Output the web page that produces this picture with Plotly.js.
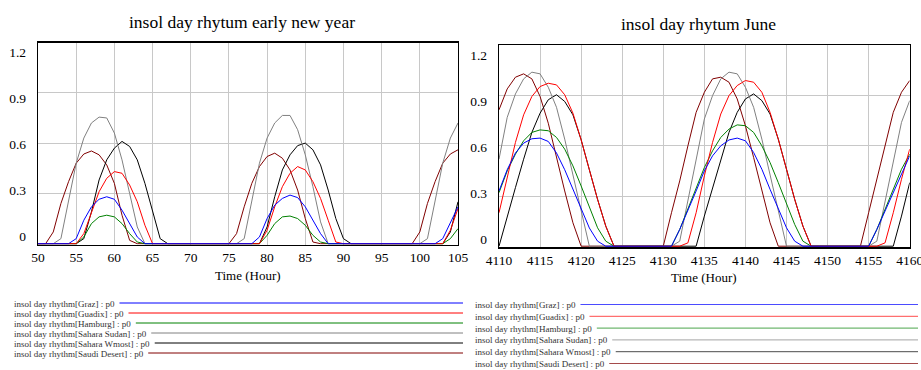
<!DOCTYPE html>
<html><head><meta charset="utf-8">
<script src="https://cdn.plot.ly/plotly-3.0.1.min.js"></script>
<style>html,body{margin:0;padding:0;background:#fff;overflow:hidden}#chart{width:921px;height:370px}</style>
</head><body><div id="chart"></div>
<script>
// ---------------- DATA ----------------
const seriesNames = ['Graz', 'Guadix', 'Hamburg', 'Sahara Sudan', 'Sahara Wmost', 'Saudi Desert'];
const titleEarly = 'insol day rhytum early new year';
const titleJune = 'insol day rhytum June';
const xTitle = 'Time (Hour)';

const hoursEarly = [50,51,52,53,54,55,56,57,58,59,60,61,62,63,64,65,66,67,68,69,70,71,72,73,74,75,76,77,78,79,80,81,82,83,84,85,86,87,88,89,90,91,92,93,94,95,96,97,98,99,100,101,102,103,104,105];
const grazEarly = [0,0,0,0,0,0.03,0.14,0.22,0.265,0.28,0.265,0.2,0.12,0.04,0, 0,0,0,0,0,0,0,0,0,0,0,0,0,0, 0.04,0.15,0.23,0.27,0.29,0.275,0.22,0.14,0.06,0, 0,0,0,0,0,0,0,0,0,0,0,0,0,0, 0.03,0.13,0.22];
const guadixEarly = [0,0,0,0,0,0,0.06,0.19,0.31,0.39,0.43,0.42,0.35,0.25,0.11,0, 0,0,0,0,0,0,0,0,0,0,0,0,0,0, 0.08,0.22,0.34,0.42,0.46,0.44,0.37,0.27,0.14,0.01, 0,0,0,0,0,0,0,0,0,0,0,0,0,0, 0.08,0.21];
const hamburgEarly = [0,0,0,0,0,0,0.04,0.12,0.16,0.17,0.16,0.12,0.06,0.01, 0,0,0,0,0,0,0,0,0,0,0,0,0,0,0,0, 0.05,0.12,0.16,0.165,0.15,0.11,0.05,0.01, 0,0,0,0,0,0,0,0,0,0,0,0,0,0,0,0, 0.03,0.09];
const sudanEarly = [0,0,0,0.03,0.26,0.48,0.63,0.72,0.755,0.75,0.66,0.5,0.3,0.1, 0,0,0,0,0,0,0,0,0,0,0,0,0, 0.03,0.26,0.48,0.63,0.72,0.765,0.765,0.68,0.53,0.34,0.13, 0,0,0,0,0,0,0,0,0,0,0,0,0, 0.03,0.26,0.48,0.63,0.72];
const wmostEarly = [0,0,0,0,0,0,0.03,0.19,0.38,0.5,0.57,0.61,0.58,0.5,0.36,0.19,0.03, 0,0,0,0,0,0,0,0,0,0,0,0,0, 0.1,0.28,0.44,0.53,0.585,0.6,0.56,0.47,0.32,0.15,0.03, 0,0,0,0,0,0,0,0,0,0,0,0,0, 0.07,0.25];
const saudiEarly = [0,0,0.07,0.24,0.37,0.48,0.535,0.553,0.53,0.47,0.36,0.17,0.02, 0,0,0,0,0,0,0,0,0,0,0,0,0, 0.06,0.22,0.36,0.46,0.52,0.54,0.51,0.44,0.32,0.15,0.01, 0,0,0,0,0,0,0,0,0,0,0,0,0, 0.07,0.24,0.37,0.48,0.535,0.56];

const hoursJune = [4110,4111,4112,4113,4114,4115,4116,4117,4118,4119,4120,4121,4122,4123,4124,4125,4126,4127,4128,4129,4130,4131,4132,4133,4134,4135,4136,4137,4138,4139,4140,4141,4142,4143,4144,4145,4146,4147,4148,4149,4150,4151,4152,4153,4154,4155,4156,4157,4158,4159,4160];
const grazJune = [0.33,0.457,0.557,0.616,0.642,0.646,0.626,0.557,0.457,0.338,0.219,0.109,0.03,0, 0,0,0,0,0,0,0,0, 0.1,0.21,0.33,0.45,0.54,0.6,0.635,0.646,0.63,0.56,0.46,0.34,0.22,0.11,0.03, 0,0,0,0,0,0,0,0,0, 0.1,0.21,0.33,0.44,0.54];
const guadixJune = [0.2,0.42,0.62,0.785,0.895,0.954,0.974,0.964,0.905,0.795,0.636,0.457,0.28,0.12,0, 0,0,0,0,0,0,0,0, 0.02,0.2,0.42,0.62,0.79,0.9,0.96,0.99,0.98,0.92,0.8,0.64,0.46,0.28,0.12, 0,0,0,0,0,0,0,0,0, 0.02,0.2,0.4,0.58];
const hamburgJune = [0.32,0.45,0.55,0.63,0.68,0.695,0.69,0.65,0.58,0.48,0.36,0.23,0.11,0.03,0, 0,0,0,0,0,0,0, 0.1,0.22,0.35,0.47,0.57,0.65,0.7,0.725,0.72,0.68,0.6,0.5,0.38,0.25,0.13,0.03, 0,0,0,0,0,0,0,0, 0.1,0.22,0.34,0.46,0.55];
const sudanJune = [0.52,0.77,0.91,1.0,1.04,1.03,0.95,0.83,0.64,0.42,0.2,0, 0,0,0,0,0,0,0,0,0,0, 0.03,0.27,0.52,0.76,0.9,1.0,1.04,1.03,0.95,0.83,0.64,0.42,0.2, 0,0,0,0,0,0,0,0,0,0,0, 0.03,0.27,0.52,0.74,0.87];
const wmostJune = [0,0.18,0.35,0.52,0.68,0.795,0.875,0.905,0.865,0.785,0.636,0.457,0.28,0.12,0, 0,0,0,0,0,0,0,0,0,0, 0.18,0.35,0.52,0.68,0.8,0.88,0.91,0.87,0.79,0.64,0.46,0.28,0.12, 0,0,0,0,0,0,0,0,0,0,0, 0.18,0.38];
const saudiJune = [0.815,0.94,1.01,1.03,1.0,0.895,0.735,0.53,0.33,0.14,0, 0,0,0,0,0,0,0,0,0,0, 0.2,0.39,0.6,0.8,0.92,1.0,1.01,0.98,0.88,0.72,0.53,0.33,0.14, 0,0,0,0,0,0,0,0,0,0,0, 0.2,0.4,0.6,0.8,0.92,0.99];

const xTicksEarly = [50,55,60,65,70,75,80,85,90,95,100,105];
const xTicksJune = [4110,4115,4120,4125,4130,4135,4140,4145,4150,4155,4160];
const yTicks = [0, 0.3, 0.6, 0.9, 1.2];

// ---------------- STYLE / LAYOUT ----------------
const seriesColors = ['#0000ff', '#ff0000', '#008000', '#808080', '#000000', '#800000'];
const W = 921, H = 370;
const FONT = '"Liberation Serif", "Times New Roman", serif';
const fx = p => p / W;
const fy = p => (H - p) / H;

const earlySeries = [grazEarly, guadixEarly, hamburgEarly, sudanEarly, wmostEarly, saudiEarly];
const juneSeries = [grazJune, guadixJune, hamburgJune, sudanJune, wmostJune, saudiJune];

const traces = [];
for (let i = seriesNames.length - 1; i >= 0; i--) {
  traces.push({x: hoursEarly, y: earlySeries[i], xaxis: 'x', yaxis: 'y', mode: 'lines',
    line: {color: seriesColors[i], width: 1}, name: seriesNames[i], showlegend: false, hoverinfo: 'skip'});
  traces.push({x: hoursJune, y: juneSeries[i], xaxis: 'x2', yaxis: 'y2', mode: 'lines',
    line: {color: seriesColors[i], width: 1}, name: seriesNames[i], showlegend: false, hoverinfo: 'skip'});
}
// placeholders so the label-only axes get drawn
traces.push({x: [hoursEarly[0]], y: [null], xaxis: 'x', yaxis: 'y3', mode: 'lines', showlegend: false, hoverinfo: 'skip'});
traces.push({x: [hoursJune[0]], y: [null], xaxis: 'x2', yaxis: 'y4', mode: 'lines', showlegend: false, hoverinfo: 'skip'});

const tickFont = {family: FONT, size: 13.5, color: '#000'};
// frame pixel positions: zero level (z) sits 1px above the frame bottom (b)
const L = {l: 38, r: 458, t: 42.5, z: 243.7, b: 244.7, lab0: 236, lab12: 52.3};
const R = {l: 499, r: 909.7, t: 45.4, z: 246.2, b: 247.2, lab0: 239.3, lab12: 55};
const yMin = f => -1.2 * (f.b - f.z) / (f.z - f.t);
function labRange(f) {
  const k = (f.lab0 - f.lab12) / 1.2;
  const a = -(f.b - f.lab0) / k;
  return [a, a + (f.b - f.t) / k];
}

function xAx(f, range, ticks, anchor) {
  return {domain: [fx(f.l), fx(f.r)], range: range, tickvals: ticks, anchor: anchor,
    showgrid: true, gridcolor: '#c8c8c8', gridwidth: 1, showline: true, mirror: true,
    linecolor: '#000', linewidth: 1.3, zeroline: false, ticks: '', tickfont: tickFont,
    ticklabelstandoff: 0, ticklabeloverflow: 'allow', fixedrange: true};
}
function yAx(f, anchor) {
  return {domain: [fy(f.b), fy(f.t)], range: [yMin(f), 1.2], tickvals: yTicks, anchor: anchor,
    showgrid: true, gridcolor: '#c8c8c8', gridwidth: 1, showline: true, mirror: true,
    linecolor: '#000', linewidth: 1.3, zeroline: false, ticks: '', showticklabels: false, fixedrange: true};
}
function yLab(over, anchor, f) {
  return {overlaying: over, anchor: anchor, side: 'left', range: labRange(f), tickvals: yTicks,
    showgrid: false, showline: false, zeroline: false, ticks: '', tickfont: tickFont,
    ticklabelstandoff: 11, ticklabeloverflow: 'allow', fixedrange: true};
}

const annotations = [
  {text: titleEarly, x: fx(242), y: fy(22), xref: 'paper', yref: 'paper', xanchor: 'center', yanchor: 'middle', showarrow: false, font: {family: FONT, size: 17.5, color: '#000'}},
  {text: titleJune, x: fx(698), y: fy(24), xref: 'paper', yref: 'paper', xanchor: 'center', yanchor: 'middle', showarrow: false, font: {family: FONT, size: 17.5, color: '#000'}},
  {text: xTitle, x: fx(247.5), y: fy(275), xref: 'paper', yref: 'paper', xanchor: 'center', yanchor: 'middle', showarrow: false, font: {family: FONT, size: 13, color: '#000'}},
  {text: xTitle, x: fx(703.5), y: fy(277.5), xref: 'paper', yref: 'paper', xanchor: 'center', yanchor: 'middle', showarrow: false, font: {family: FONT, size: 13, color: '#000'}}
];
const shapes = [];
const cv = document.createElement('canvas').getContext('2d');
cv.font = "9px 'Liberation Serif'";
const legendFont = {family: FONT, size: 9, color: '#333'};
const legL = {x: 13, y0: 303.5, dy: 10, end: 463, op: 1};
const legR = {x: 474, y0: 305, dy: 11.8, end: 918, op: 0.7};
[legL, legR].forEach(lg => {
  seriesNames.forEach((n, i) => {
    const label = 'insol day rhythm[' + n + '] : p0';
    const y = lg.y0 + i * lg.dy;
    annotations.push({text: label, x: fx(lg.x), y: fy(y), xref: 'paper', yref: 'paper', xanchor: 'left', yanchor: 'middle',
      showarrow: false, font: legendFont, borderpad: 0});
    const w = cv.measureText(label).width;
    shapes.push({type: 'line', xref: 'paper', yref: 'paper', x0: fx(lg.x + w + 6), x1: fx(lg.end), y0: fy(y - 0.5), y1: fy(y - 0.5),
      line: {color: seriesColors[i], width: 1}, opacity: lg.op});
  });
});

const layout = {
  width: W, height: H, margin: {l: 0, r: 0, t: 0, b: 0},
  font: {family: FONT, color: '#000'},
  paper_bgcolor: '#fff', plot_bgcolor: '#fff', showlegend: false,
  xaxis: xAx(L, [50, 105], xTicksEarly, 'y'),
  yaxis: yAx(L, 'x'),
  xaxis2: xAx(R, [4110, 4160], xTicksJune, 'y2'),
  yaxis2: yAx(R, 'x2'),
  yaxis3: yLab('y', 'x', L),
  yaxis4: yLab('y2', 'x2', R),
  annotations: annotations, shapes: shapes
};
Plotly.newPlot('chart', traces, layout, {staticPlot: true, displayModeBar: false});
</script></body></html>
